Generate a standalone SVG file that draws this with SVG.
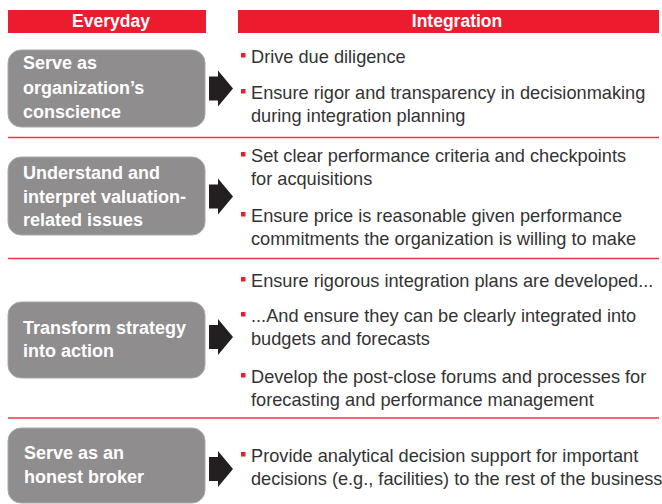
<svg xmlns="http://www.w3.org/2000/svg" width="662" height="504" viewBox="0 0 662 504">
<style>
.hdr{fill:#ed1b2e}
.hdrt{font-family:"Liberation Sans",Arial,sans-serif;font-weight:bold;font-size:17.5px;fill:#fff;text-anchor:middle}
.box{fill:#8f8d8e;stroke:#a9a7a8;stroke-width:1}
.bt{font-family:"Liberation Sans",Arial,sans-serif;font-weight:bold;font-size:18px;fill:#fff}
.tx{font-family:"Liberation Sans",Arial,sans-serif;font-size:18.2px;fill:#333}
.bul{fill:#ed1b2e}
.sep{stroke:#ee3344;stroke-width:1.5}
.arr{fill:#231f20}
</style>
<defs>
<polygon id="arrow" points="0,-12 9,-12 9,-18 24,0 9,18 9,12 0,12"/>
<rect id="b" width="4.5" height="4.5"/>
</defs>
<g id="headers">
<rect class="hdr" x="8" y="10" width="198" height="23"/>
<text class="hdrt" x="111" y="27">Everyday</text>
<rect class="hdr" x="238" y="10" width="421" height="23"/>
<text class="hdrt" x="457" y="27">Integration</text>
</g>
<g id="separators">
<line class="sep" x1="8" y1="137.5" x2="659" y2="137.5"/>
<line class="sep" x1="8" y1="258.5" x2="659" y2="258.5"/>
<line class="sep" x1="8" y1="418" x2="659" y2="418"/>
</g>
<g id="node1">
<rect class="box" x="8" y="50" width="197" height="77" rx="13"/>
<text class="bt" x="23" y="69">Serve as</text>
<text class="bt" x="23" y="94">organization’s</text>
<text class="bt" x="23" y="118">conscience</text>
</g>
<g id="node2">
<rect class="box" x="8" y="157" width="197" height="78" rx="13"/>
<text class="bt" x="23" y="179">Understand and</text>
<text class="bt" x="23" y="203">interpret valuation-</text>
<text class="bt" x="23" y="226">related issues</text>
</g>
<g id="node3">
<rect class="box" x="8" y="302" width="197" height="76" rx="13"/>
<text class="bt" x="23" y="334">Transform strategy</text>
<text class="bt" x="23" y="357">into action</text>
</g>
<g id="node4">
<rect class="box" x="8" y="428" width="197" height="75" rx="13"/>
<text class="bt" x="24" y="459">Serve as an</text>
<text class="bt" x="24" y="483">honest broker</text>
</g>
<g id="connectors">
<use href="#arrow" class="arr" x="209" y="88.5"/>
<use href="#arrow" class="arr" x="209" y="196.5"/>
<use href="#arrow" class="arr" x="209" y="337"/>
<use href="#arrow" class="arr" x="209" y="469"/>
</g>
<g id="list1">
<use href="#b" class="bul" x="241" y="53"/>
<text class="tx" x="251" y="63">Drive due diligence</text>
<use href="#b" class="bul" x="241" y="89"/>
<text class="tx" x="251" y="99">Ensure rigor and transparency in decisionmaking</text>
<text class="tx" x="251" y="122">during integration planning</text>
</g>
<g id="list2">
<use href="#b" class="bul" x="241" y="152"/>
<text class="tx" x="251" y="162">Set clear performance criteria and checkpoints</text>
<text class="tx" x="251" y="185">for acquisitions</text>
<use href="#b" class="bul" x="241" y="212"/>
<text class="tx" x="251" y="222">Ensure price is reasonable given performance</text>
<text class="tx" x="251" y="245">commitments the organization is willing to make</text>
</g>
<g id="list3">
<use href="#b" class="bul" x="241" y="277"/>
<text class="tx" x="251" y="287">Ensure rigorous integration plans are developed...</text>
<use href="#b" class="bul" x="241" y="312"/>
<text class="tx" x="251" y="322">...And ensure they can be clearly integrated into</text>
<text class="tx" x="251" y="345">budgets and forecasts</text>
<use href="#b" class="bul" x="241" y="373"/>
<text class="tx" x="251" y="383">Develop the post-close forums and processes for</text>
<text class="tx" x="251" y="406">forecasting and performance management</text>
</g>
<g id="list4">
<use href="#b" class="bul" x="241" y="452"/>
<text class="tx" x="251" y="462">Provide analytical decision support for important</text>
<text class="tx" x="251" y="485">decisions (e.g., facilities) to the rest of the business</text>
</g>
</svg>
